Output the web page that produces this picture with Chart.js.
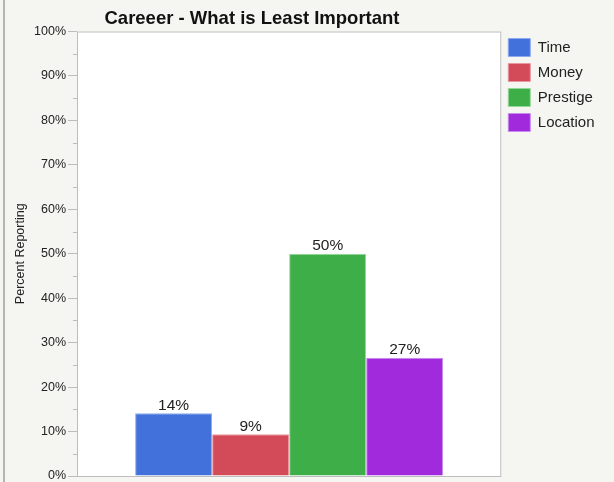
<!DOCTYPE html>
<html>
<head>
<meta charset="utf-8">
<script src="https://cdn.jsdelivr.net/npm/chart.js@4"></script>
<style>
  body { margin: 0; background: #f5f5f1; }
  #wrap { width: 614px; height: 482px; }
</style>
</head>
<body>
<div id="wrap"><canvas id="myChart" width="614" height="482"></canvas></div>
<script>
var chartTitle = "Careeer - What is Least Important";
var yTitle = "Percent Reporting";
var categories = ["Time", "Money", "Prestige", "Location"];
var percents = [14.1, 9.4, 50.0, 26.6];
var barColors = ["rgb(66,113,220)", "rgb(211,74,89)", "rgb(62,174,72)", "rgb(161,42,220)"];
var edgeColors = ["rgb(140,170,240)", "rgb(235,150,160)", "rgb(150,215,155)", "rgb(200,140,240)"];

var datasets = categories.map(function (c, i) {
  return {
    label: c,
    data: [percents[i]],
    backgroundColor: barColors[i],
    borderColor: edgeColors[i],
    borderWidth: 1
  };
});

var frame = {
  id: "frame",
  beforeDraw: function (chart) {
    var ctx = chart.ctx, a = chart.chartArea;
    ctx.save();
    ctx.fillStyle = "#f5f5f1";
    ctx.fillRect(0, 0, chart.width, chart.height);
    ctx.fillStyle = "#b4b4b0";
    ctx.fillRect(3, 0, 2, chart.height);
    ctx.fillStyle = "#ffffff";
    ctx.fillRect(a.left, a.top, a.right - a.left, a.bottom - a.top);
    ctx.strokeStyle = "#bdbdbd";
    ctx.lineWidth = 1;
    ctx.strokeRect(a.left + 0.5, a.top + 0.5, a.right - a.left - 1, a.bottom - a.top);
    // minor ticks
    var y = chart.scales.y;
    for (var v = 5; v < 100; v += 10) {
      var py = Math.round(y.getPixelForValue(v)) + 0.5;
      ctx.beginPath();
      ctx.moveTo(a.left - 4, py);
      ctx.lineTo(a.left, py);
      ctx.stroke();
    }
    // title
    ctx.fillStyle = "#111";
    ctx.font = "bold 18.5px 'Liberation Sans', Arial, sans-serif";
    ctx.textAlign = "center";
    ctx.textBaseline = "alphabetic";
    ctx.fillText(chartTitle, 252, 24);
    ctx.restore();
  },
  afterDatasetsDraw: function (chart) {
    var ctx = chart.ctx;
    ctx.save();
    ctx.fillStyle = "#222";
    ctx.font = "15.5px 'Liberation Sans', Arial, sans-serif";
    ctx.textAlign = "center";
    ctx.textBaseline = "alphabetic";
    chart.data.datasets.forEach(function (ds, i) {
      var bar = chart.getDatasetMeta(i).data[0];
      ctx.fillText(Math.round(ds.data[0]) + "%", bar.x, bar.y - 3.5);
    });
    ctx.restore();
  }
};

new Chart("myChart", {
  type: "bar",
  data: { labels: [""], datasets: datasets },
  plugins: [frame],
  options: {
    responsive: false,
    animation: false,
    layout: { padding: { top: 31.5, bottom: 6, left: 0, right: 9.5 } },
    datasets: { bar: { categoryPercentage: 0.726, barPercentage: 1 } },
    plugins: {
      title: { display: false },
      tooltip: { enabled: false },
      legend: {
        position: "right",
        align: "start",
        fullSize: false,
        labels: {
          boxWidth: 22,
          boxHeight: 18,
          padding: 7,
          color: "#222",
          font: { size: 15, family: "'Liberation Sans', Arial, sans-serif" }
        }
      }
    },
    scales: {
      x: { display: false },
      y: {
        min: 0,
        max: 100,
        afterFit: function (s) { s.width = 77; s.paddingTop = 0; s.paddingBottom = 0; },
        ticks: {
          stepSize: 10,
          padding: 2,
          color: "#222",
          font: { size: 12.5, family: "'Liberation Sans', Arial, sans-serif" },
          callback: function (v) { return v + "%"; }
        },
        grid: { drawOnChartArea: false, tickLength: 9, color: "#bdbdbd" },
        border: { display: false },
        title: {
          display: true,
          text: yTitle,
          color: "#222",
          padding: { top: 13, bottom: 0 },
          font: { size: 12.5, family: "'Liberation Sans', Arial, sans-serif" }
        }
      }
    }
  }
});
</script>
</body>
</html>
